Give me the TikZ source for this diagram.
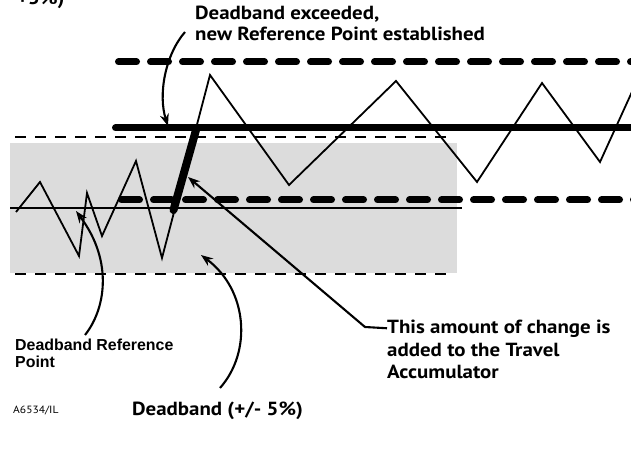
\documentclass[tikz,border=0pt]{standalone}
\usepackage{fontspec}
\setmainfont{PT Sans}
\newfontfamily\lblfont[FakeStretch=1.1]{PT Sans}
\newfontfamily\arialfont{Liberation Sans}
\usetikzlibrary{arrows.meta}
\definecolor{bandgray}{RGB}{220,220,220}
\tikzset{
  lbl/.style={inner sep=0pt, anchor=base west, font=\lblfont\bfseries\fontsize{19bp}{22bp}\selectfont},
  reflbl/.style={inner sep=0pt, anchor=base west, font=\arialfont\bfseries\fontsize{15.9bp}{18bp}\selectfont},
  thindash/.style={line width=2.2bp, dash pattern=on 11bp off 9bp},
  thickdash/.style={line width=7bp, line cap=round, dash pattern=on 18bp off 14bp},
  thickline/.style={line width=7bp, line cap=round},
  zig/.style={line width=1.8bp, line join=miter},
  callout/.style={line width=2.1bp, -{Stealth[length=12bp,width=9bp]}},
}
\begin{document}
\begin{tikzpicture}[x=1bp,y=-1bp]
\useasboundingbox (0,0) rectangle (631,459);
% band
\fill[bandgray] (10,143) rectangle (457,273);
% thin dashed deadband limits
\draw[thindash] (15,137) -- (452,137);
\draw[thindash] (15,274) -- (452,274);
% old reference
\draw[line width=1.6bp] (10,208) -- (462,208);
% new deadband limits
\draw[thickdash] (118.5,62) -- (640,62);
\draw[thickdash] (121.5,200) -- (640,200);
% new reference point
\draw[thickline] (115.5,128) -- (640,128);
% travel signal
\draw[zig] (16,212) -- (40,182) -- (79,256) -- (87,193) -- (102,236) -- (136,161) -- (162,258)
  -- (210,75) -- (289,185) -- (396,81) -- (477,182) -- (542,83) -- (600,162) -- (636,83);
% accumulated change
\draw[line width=8bp, line cap=round] (173.5,210) -- (196,130);
\draw[line width=8bp] (196,130) -- (197.2,126);
% texts
\node[lbl] (exc1) at (195,20) {Deadband exceeded,};
\node[lbl] (exc2) at (195,41) {new Reference Point established};
\node[lbl] (chg1) at (387,333) {This amount of change is};
\node[lbl] (chg2) at (387,356) {added to the Travel};
\node[lbl] (chg3) at (387,378) {Accumulator};
\node[reflbl] (ref1) at (15,350) {Deadband Reference};
\node[reflbl] (ref2) at (15,367) {Point};
\node[inner sep=0pt, anchor=base west, font=\lblfont\fontsize{10.5bp}{12bp}\selectfont] (fig) at (13,413) {A6534/IL};
\node[lbl] (db) at (132,415) {Deadband (+/- 5\%)};
\node[lbl] (frag) at (17,5) {+5\%)};
% callouts
\coordinate (excS) at (185,32);
\coordinate (excT) at (168,126);
\coordinate (chgK) at (365,327);
\coordinate (chgT) at (188,177);
\coordinate (refS) at (85,335);
\coordinate (refT) at (76,211);
\coordinate (dbS) at (220,388);
\coordinate (dbT) at (201,255);
\draw[callout] (excS) .. controls (165,55) and (158,95) .. (excT);
\draw[callout] (chg1.west) -- (chgK) -- (chgT);
\draw[callout] (refS) .. controls (105,310) and (114,262) .. (refT);
\draw[callout] (dbS) .. controls (252,352) and (248,290) .. (dbT);
\end{tikzpicture}
\end{document}
